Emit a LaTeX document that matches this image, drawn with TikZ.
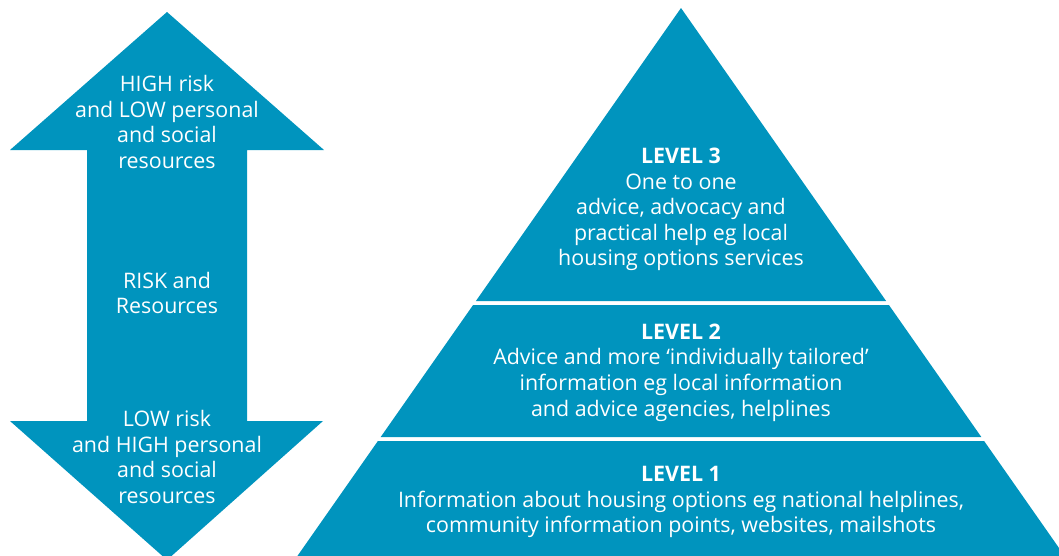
\documentclass[tikz,border=0pt]{standalone}
\usepackage{fontspec}
\setmainfont{Open Sans}
\definecolor{teal}{RGB}{0,148,190}
\begin{document}
\begin{tikzpicture}[x=1pt,y=-1pt,
  shape fill/.style={fill=teal,draw=none},
  label text/.style={text=white,align=center,inner sep=0pt,
    font=\fontsize{21.4}{25.6}\selectfont}]
\useasboundingbox (0,0) rectangle (1059,555);
\clip (0,0) rectangle (1059,555);

% double-headed arrow: risk and resources
\fill[shape fill] (167,12) -- (324,150) -- (247,150) -- (247,421)
  -- (323,421) -- (167,560) -- (10,421) -- (87,421) -- (87,150)
  -- (10,150) -- cycle;

% pyramid, three levels separated by white gaps
\fill[shape fill] (681,8) -- (886.1,301) -- (475.9,301) -- cycle;
\fill[shape fill] (473.1,305) -- (888.9,305) -- (981.3,437) -- (380.7,437) -- cycle;
\fill[shape fill] (377.9,441) -- (984.1,441) -- (1067.4,560) -- (294.6,560) -- cycle;

% arrow texts
\node[label text] (high) at (167,122) {HIGH risk\\and LOW personal\\and social\\resources};
\node[label text] (mid) at (167,293) {RISK and\\Resources};
\node[label text] (low) at (167,457) {LOW risk\\and HIGH personal\\and social\\resources};

% pyramid texts
\node[label text] (lv3) at (681,209.5) {\textbf{LEVEL 3}\\One to one\\advice, advocacy and\\practical help eg local\\housing options services};
\node[label text] (lv2) at (681,372.5) {\textbf{LEVEL 2}\\Advice and more ‘individually tailored’\\information eg local information\\and advice agencies, helplines};
\node[label text] (lv1) at (681,502) {\textbf{LEVEL 1}\\Information about housing options eg national helplines,\\community information points, websites, mailshots};
\end{tikzpicture}
\end{document}
